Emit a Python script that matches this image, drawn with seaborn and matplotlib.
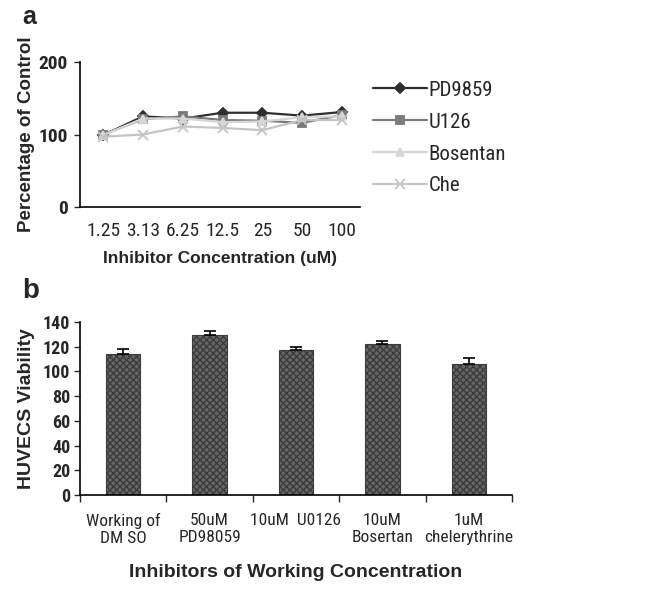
import numpy as np
import pandas as pd
import matplotlib
matplotlib.use("Agg")
import matplotlib.pyplot as plt
import seaborn as sns

# Panel a: inhibitor dose response (percentage of control)
concentrations = ["1.25", "3.13", "6.25", "12.5", "25", "50", "100"]
pd9859 = [99, 125, 122, 130, 130, 126, 131]
u126 = [100, 121, 125, 120, 119, 116, 127]
bosentan = [99, 122, 122, 117, 118, 124, 125]
che = [97, 100, 111, 109, 106, 120, 120]

# Panel b: HUVECS viability at working concentration
inhibitors = ["Working of\nDM SO", "50uM\nPD98059", "10uM  U0126", "10uM\nBosertan", "1uM\nchelerythrine"]
viability = [114, 129.5, 117, 122, 106]
viability_err = [4, 3, 2.5, 3, 5]

sns.set_style("white")
plt.rcParams["font.family"] = ["Liberation Sans", "DejaVu Sans"]
narrow = ["Roboto Condensed", "Archivo Narrow", "Liberation Sans", "DejaVu Sans"]

fig = plt.figure(figsize=(6.55, 5.89), dpi=100)
ax1 = fig.add_axes([80 / 655, 1 - 207 / 589, 280 / 655, 145 / 589])
ax2 = fig.add_axes([80 / 655, 1 - 495 / 589, 432 / 655, 173 / 589])

# ---- panel a
series = [
    ("PD9859", pd9859, "#2e2e2e", "D", 5),
    ("U126", u126, "#7a7a7a", "s", 6),
    ("Bosentan", bosentan, "#d6d6d6", "^", 6),
    ("Che", che, "#c4c4c4", "x", 7),
]
pos = np.arange(len(concentrations))
for name, vals, col, mk, ms in series:
    sns.lineplot(x=pos, y=vals, ax=ax1, color=col, marker=mk, markersize=ms,
                 markeredgecolor=col, markeredgewidth=1.3, linewidth=1.6, label=name)

ax1.set_xlim(-0.58, 6.45)
ax1.set_ylim(0, 200)
ax1.set_yticks([0, 100, 200])
ax1.set_xticks(pos)
ax1.set_xticklabels(concentrations, family=narrow, fontsize=14)
ax1.set_yticklabels(["0", "100", "200"], family=narrow, fontsize=14, fontweight="bold")
ax1.tick_params(axis="x", length=0, pad=11)
ax1.tick_params(axis="y", length=4, width=1, direction="out", left=True, pad=5)
for s in ["top", "right"]:
    ax1.spines[s].set_visible(False)
for s in ["left", "bottom"]:
    ax1.spines[s].set_color("black")
    ax1.spines[s].set_linewidth(1.2)
ax1.set_ylabel("Percentage of Control", fontsize=13.5, fontweight="bold", labelpad=2)
ax1.set_xlabel("Inhibitor Concentration (uM)", fontsize=12.5, fontweight="bold", labelpad=8)
leg = ax1.legend(loc="upper left", bbox_to_anchor=(0.98, 1.0), frameon=False,
                 prop={"family": narrow, "size": 15}, handlelength=2.6,
                 handletextpad=0.05, labelspacing=0.62)

# ---- panel b
df_b = pd.DataFrame({"inhibitor": inhibitors, "viability": viability})
sns.barplot(data=df_b, x="inhibitor", y="viability", ax=ax2, width=0.4,
            color="#666666", edgecolor="#3a3a3a", linewidth=0.8)
plt.rcParams["hatch.linewidth"] = 1.0
for bar in ax2.patches:
    bar.set_hatch("xxxxx")
    bar.set_edgecolor("#3c3c3c")
ax2.errorbar(np.arange(len(inhibitors)), viability,
             yerr=[np.zeros(len(viability)), viability_err],
             fmt="none", ecolor="black", elinewidth=1.2, capsize=4, capthick=1.2)

ax2.set_xlim(-0.5, 4.5)
ax2.set_ylim(0, 140)
ax2.set_yticks(range(0, 141, 20))
ax2.set_yticklabels([str(v) for v in range(0, 141, 20)], family=narrow,
                    fontsize=13, fontweight="bold")
ax2.set_xticks(np.arange(len(inhibitors)))
ax2.set_xticklabels(inhibitors, family=narrow, fontsize=12.5, linespacing=1.15)
ax2.tick_params(axis="x", length=0, pad=13)
ax2.set_xticks(np.arange(-0.5, 4.6, 1), minor=True)
ax2.tick_params(axis="x", which="minor", length=5, width=1, direction="out", bottom=True)
ax2.tick_params(axis="y", length=4, width=1, direction="out", left=True, pad=3)
for s in ["top", "right"]:
    ax2.spines[s].set_visible(False)
for s in ["left", "bottom"]:
    ax2.spines[s].set_color("black")
    ax2.spines[s].set_linewidth(1.2)
ax2.set_ylabel("HUVECS Viability", fontsize=14, fontweight="bold", labelpad=6)
ax2.set_xlabel("Inhibitors of Working Concentration", fontsize=14,
               fontweight="bold", labelpad=13)

fig.text(22 / 655, 1 - 24 / 589, "a", fontsize=18, fontweight="bold")
fig.text(22 / 655, 1 - 298 / 589, "b", fontsize=20, fontweight="bold")

fig.savefig("out.png", dpi=100)
